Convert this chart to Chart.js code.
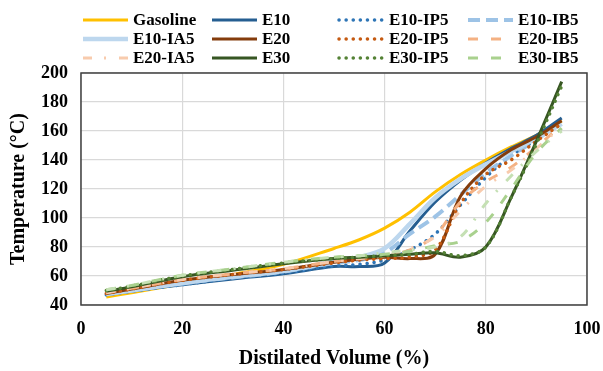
<!DOCTYPE html>
<html>
<head>
<meta charset="utf-8">
<script src="https://cdn.jsdelivr.net/npm/chart.js@4.4.1/dist/chart.umd.min.js"></script>
<style>
  html, body { margin: 0; padding: 0; background: #fff; }
</style>
</head>
<body>
<canvas id="grafico" width="603" height="371"></canvas>
<script>
// distilled volume (%) and temperatures (°C)
const volume = [5, 10, 20, 30, 40, 50, 55, 60, 65, 70, 75, 80, 85, 90, 95];

const gasoline = [45.5, 48.5, 54.5, 61, 68, 79, 85, 93, 104, 118, 130, 140, 149, 157, 167];
const e10     = [47, 49.5, 54, 58, 61.5, 66.5, 66.5, 69, 91, 111, 126, 138, 148, 157, 169];
const e10ip5  = [47, 49.5, 54, 58.5, 62, 67, 68, 71, 78, 89, 109, 128, 143, 154, 166];
const e10ib5  = [47.5, 50, 55, 59, 63, 69, 71, 76, 89, 101, 116, 131, 143, 154, 166];
const e10ia5  = [47.5, 50, 55, 59.5, 63.5, 70, 73, 79, 96, 114, 127, 137, 146, 155, 165];
const e20     = [48, 51, 57, 61, 64.5, 69.5, 71.5, 73, 72, 75, 115, 134, 147, 156, 167];
const e20ip5  = [48, 51, 57, 61, 64.5, 69, 71, 72, 73, 78, 110, 130, 140, 153, 165];
const e20ib5  = [48.5, 51.5, 57.5, 61.5, 65, 70, 72, 74, 78, 88, 111, 125, 135, 149, 164];
const e20ia5  = [48.5, 51.5, 57.5, 61.5, 65, 70, 72, 74, 79, 87, 105, 122, 133, 148, 163];
const e30     = [49.5, 52.5, 59.5, 64, 68.5, 72, 73, 74, 75, 76, 73, 80, 114, 153, 194];
const e30ip5  = [50, 53, 60, 64.5, 69, 72, 73, 74, 75, 77, 74, 80, 114, 151, 191];
const e30ib5  = [50.5, 53.5, 60.5, 65, 69.5, 73, 74, 75, 77, 81, 84, 97, 120, 145, 162];
const e30ia5  = [50.5, 53.5, 60.5, 65, 69.5, 73, 74, 76, 78, 80, 87, 110, 129, 146, 160];

const xTicks = [0, 20, 40, 60, 80, 100];
const yTicks = [40, 60, 80, 100, 120, 140, 160, 180, 200];

const serie = (label, valores, cor, largura, traco, extra) => Object.assign({
  label: label,
  data: valores.map((v, i) => ({ x: volume[i], y: v })),
  borderColor: cor,
  backgroundColor: cor,
  borderWidth: largura,
  borderDash: traco,
  borderCapStyle: traco.length && traco[0] < 1 ? "round" : "butt",
  pointRadius: 0,
  tension: 0.35,
  fill: false,
}, extra || {});

const DOT = [0.1, 7];
const datasets = [
  serie("Gasoline", gasoline, "#FFC000", 3, []),
  serie("E10", e10, "#255E91", 3, []),
  serie("E10-IP5", e10ip5, "#2E75B6", 3.5, DOT),
  serie("E10-IB5", e10ib5, "#9DC3E6", 4, [12, 6]),
  serie("E10-IA5", e10ia5, "#BDD7EE", 4.5, []),
  serie("E20", e20, "#843C0C", 3, []),
  serie("E20-IP5", e20ip5, "#C55A11", 3.5, DOT),
  serie("E20-IB5", e20ib5, "#F4B183", 3, [10, 13]),
  serie("E20-IA5", e20ia5, "#F8CBAD", 3, [9, 12, 2, 13]),
  serie("E30", e30, "#375623", 3, []),
  serie("E30-IP5", e30ip5, "#548235", 3.5, DOT),
  serie("E30-IB5", e30ib5, "#A9D18E", 3, [10, 13]),
  serie("E30-IA5", e30ia5, "#C5E0B4", 3, [9, 12, 2, 13], { semLegenda: true }),
];
datasets.forEach((d, i) => { d.order = datasets.length - i; });

const fonte = '"Liberation Serif", "Times New Roman", serif';

// legend in a 4-column grid like the original
const legendaGrade = {
  id: "legendaGrade",
  afterDraw(chart) {
    const c = chart.ctx;
    const colX = [83, 212, 339, 468];
    const rowY = [20, 39, 58];
    chart.data.datasets.forEach((ds, i) => {
      if (ds.semLegenda) return;
      const x = colX[i % 4];
      const y = rowY[Math.floor(i / 4)];
      c.save();
      c.strokeStyle = ds.borderColor;
      c.lineWidth = ds.borderWidth;
      c.setLineDash(ds.borderDash);
      c.lineCap = ds.borderCapStyle;
      c.beginPath();
      c.moveTo(x, y);
      c.lineTo(x + 45, y);
      c.stroke();
      c.setLineDash([]);
      c.fillStyle = "#000";
      c.font = "bold 17px " + fonte;
      c.textBaseline = "middle";
      c.fillText(ds.label, x + 50, y + 1);
      c.restore();
    });
  },
};

const moldura = {
  id: "moldura",
  beforeDatasetsDraw(chart) {
    const a = chart.chartArea;
    const c = chart.ctx;
    c.save();
    c.strokeStyle = "#404040";
    c.lineWidth = 1.5;
    c.strokeRect(a.left, a.top, a.right - a.left, a.bottom - a.top);
    c.restore();
  },
};

const grafico = document.getElementById("grafico").getContext("2d");
new Chart(grafico, {
  type: "line",
  data: { datasets: datasets },
  plugins: [legendaGrade, moldura],
  options: {
    responsive: false,
    animation: false,
    layout: { padding: { top: 73, right: 0, left: 0, bottom: 0 } },
    plugins: { legend: { display: false }, tooltip: { enabled: false } },
    scales: {
      x: {
        type: "linear",
        min: 0,
        max: 100,
        afterBuildTicks: (s) => { s.ticks = xTicks.map((v) => ({ value: v })); },
        afterFit: (s) => { s.height = 66; s.paddingRight = 16; },
        grid: { color: "#D9D9D9", lineWidth: 1.2, drawTicks: false },
        border: { display: false },
        ticks: { color: "#000", padding: 14, font: { family: fonte, size: 18, weight: "bold" } },
        title: {
          display: true,
          text: "Distilated Volume (%)",
          color: "#000",
          padding: { top: 6, bottom: 0 },
          font: { family: fonte, size: 20, weight: "bold" },
        },
      },
      y: {
        min: 40,
        max: 200,
        afterBuildTicks: (s) => { s.ticks = yTicks.map((v) => ({ value: v })); },
        afterFit: (s) => { s.width = 81; },
        grid: { color: "#D9D9D9", lineWidth: 1.2, drawTicks: false },
        border: { display: false },
        ticks: { color: "#000", padding: 13, font: { family: fonte, size: 18, weight: "bold" } },
        title: {
          display: true,
          text: "Temperature (°C)",
          color: "#000",
          padding: { top: 7, bottom: 0 },
          font: { family: fonte, size: 20, weight: "bold" },
        },
      },
    },
  },
});
</script>
</body>
</html>
